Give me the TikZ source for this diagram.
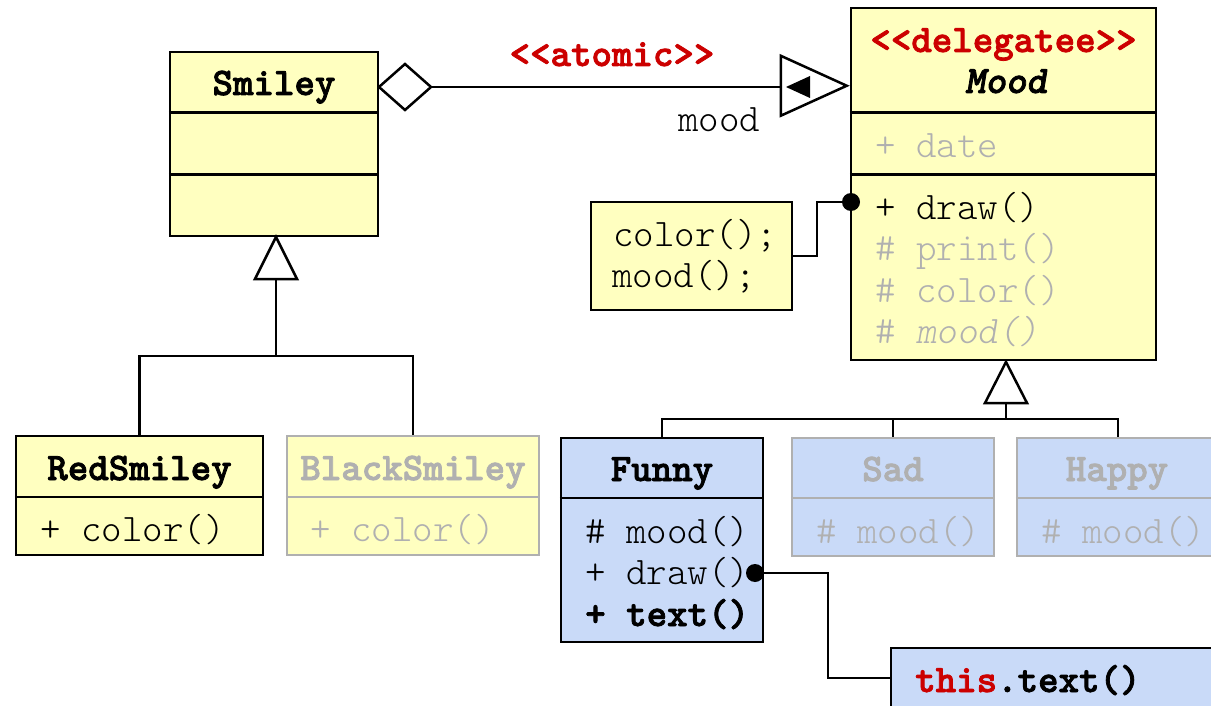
\documentclass[tikz,border=0pt]{standalone}
\usepackage{fontspec}
\setmonofont{lmmonolt10-regular.otf}[
  ItalicFont=lmmonolt10-oblique.otf,
  BoldFont=lmmonolt10-bold.otf,
  BoldFeatures={FakeBold=2},
  BoldItalicFont=lmmonolt10-boldoblique.otf,
  BoldItalicFeatures={FakeBold=2}]
\usetikzlibrary{calc}
\definecolor{yel}{HTML}{FFFFC0}
\definecolor{blu}{HTML}{C9DAF8}
\definecolor{gry}{HTML}{B0B0B0}
\definecolor{umlred}{HTML}{CC0000}
\begin{document}
\begin{tikzpicture}[x=1pt,y=-1pt,line width=2.5pt,
  box/.style={draw=black,rectangle,inner sep=0pt},
  ybox/.style={box,fill=yel},
  bbox/.style={box,fill=blu},
  gbox/.style={draw=gry},
  txt/.style={font=\ttfamily\fontsize{39}{44}\selectfont,inner sep=0pt,text height=31pt,text depth=7pt},
  ltxt/.style={txt,anchor=west},
  ttl/.style={txt,font=\ttfamily\bfseries\fontsize{39}{44}\selectfont},
  gt/.style={text=gry},
  dot/.style={circle,fill=black,inner sep=0pt,minimum size=18pt}]
\useasboundingbox (0,0) rectangle (1211,706);
\clip (0,0) rectangle (1211,706);
\fill[white] (0,0) rectangle (1211,706);

% Smiley
\node[ybox,minimum width=208pt,minimum height=184pt] (smiley) at (274,144) {};
\draw ($(smiley.north west)+(0,62)$) -- ($(smiley.north east)+(0,62)$);
\draw ($(smiley.north west)+(0,124)$) -- ($(smiley.north east)+(0,124)$);
\node[ttl] (smileyT) at (274,83) {Smiley};

% Mood
\node[ybox,minimum width=305pt,minimum height=352pt] (mood) at (1003.5,184) {};
\draw ($(mood.north west)+(0,106)$) -- ($(mood.north east)+(0,106)$);
\draw ($(mood.north west)+(0,168)$) -- ($(mood.north east)+(0,168)$);
\node[ttl,text=umlred] (moodS) at (1003.5,40) {<<delegatee>>};
\node[ttl,font=\ttfamily\bfseries\itshape\fontsize{39}{44}\selectfont] (moodT) at (1006,81) {Mood};
\node[ltxt,gt] (moodA) at (874,146) {+ date};
\node[ltxt] (moodO1) at (874,207) {+ draw()};
\node[ltxt,gt] (moodO2) at (874,248) {\# print()};
\node[ltxt,gt] (moodO3) at (874,290) {\# color()};
\node[ltxt,gt] (moodO4) at (874,331) {\# \textit{mood()}};

% association
\coordinate (dL) at (379,87);
\coordinate (tR) at ($(mood.north west)+(-3,79)$);
\draw[fill=white] (dL) -- ++(26,-23) -- ++(26,23) -- ++(-26,23) -- cycle;
\draw (431,87) -- (782,87);
\draw[fill=white] (tR) -- ++(-66,-30) -- ++(0,60) -- cycle;
\fill[black] (786,87) -- (810,76) -- (810,98) -- cycle;
\node[ttl,text=umlred] (atomic) at (612,54) {<<atomic>>};
\node[txt] (moodL) at (719,120) {mood};

% note color/mood
\node[ybox,minimum width=201pt,minimum height=108pt] (note1) at (691.5,256) {};
\node[ltxt] (n1a) at (612,235) {color();};
\node[ltxt] (n1b) at (611,275) {mood();};
\node[dot] (dot1) at (851,202) {};
\draw (note1.east) -- (817,256) -- (817,202) -- (dot1.center);

% Smiley subclasses
\node[ybox,minimum width=247pt,minimum height=119pt] (red) at (139.5,495.5) {};
\draw ($(red.north west)+(0,62)$) -- ($(red.north east)+(0,62)$);
\node[ttl] (redT) at (139.5,468) {RedSmiley};
\node[ltxt] (redO) at (39,529) {+ color()};

\node[ybox,gbox,minimum width=252pt,minimum height=119pt] (black) at (413,495.5) {};
\draw[gry] ($(black.north west)+(0,62)$) -- ($(black.north east)+(0,62)$);
\node[ttl,gt] (blackT) at (413,468) {BlackSmiley};
\node[ltxt,gt] (blackO) at (309,529) {+ color()};

\draw (276,278) -- (276,356);
\draw (red.north) -- (139.5,356) -- (413,356) -- (black.north);
\draw[fill=white] (276,237) -- ++(-21,42) -- ++(42,0) -- cycle;

% Mood subclasses
\node[bbox,minimum width=202pt,minimum height=204pt] (funny) at (662,540) {};
\draw ($(funny.north west)+(0,61)$) -- ($(funny.north east)+(0,61)$);
\node[ttl] (funnyT) at (662,469) {Funny};
\node[ltxt] (funnyO1) at (584,531) {\# mood()};
\node[ltxt] (funnyO2) at (584,572) {+ draw()};
\node[ltxt,font=\ttfamily\bfseries\fontsize{39}{44}\selectfont] (funnyO3) at (584,614) {+ text()};

\node[bbox,gbox,minimum width=202pt,minimum height=118pt] (sad) at (893,497) {};
\draw[gry] ($(sad.north west)+(0,61)$) -- ($(sad.north east)+(0,61)$);
\node[ttl,gt] (sadT) at (893,469) {Sad};
\node[ltxt,gt] (sadO) at (815,531) {\# mood()};

\node[bbox,gbox,minimum width=202pt,minimum height=118pt] (happy) at (1118,497) {};
\draw[gry] ($(happy.north west)+(0,61)$) -- ($(happy.north east)+(0,61)$);
\node[ttl,gt] (happyT) at (1117,469) {Happy};
\node[ltxt,gt] (happyO) at (1040,531) {\# mood()};

\draw (1006,403) -- (1006,419);
\draw (funny.north) -- (662,419) -- (1118,419) -- (happy.north);
\draw (sad.north) -- (893,419);
\draw[fill=white] (1006,362) -- ++(-21,41) -- ++(42,0) -- cycle;

% note this.text()
\node[bbox,minimum width=330pt,minimum height=64pt] (note2) at (1056,680) {};
\node[ltxt,font=\ttfamily\bfseries\fontsize{39}{44}\selectfont] (n2) at (914,680) {\textcolor{umlred}{this}.text()};
\node[dot] (dot2) at (755,573) {};
\draw (dot2.center) -- (828,573) -- (828,678) -- (note2.west |- 0,678);
\end{tikzpicture}
\end{document}
